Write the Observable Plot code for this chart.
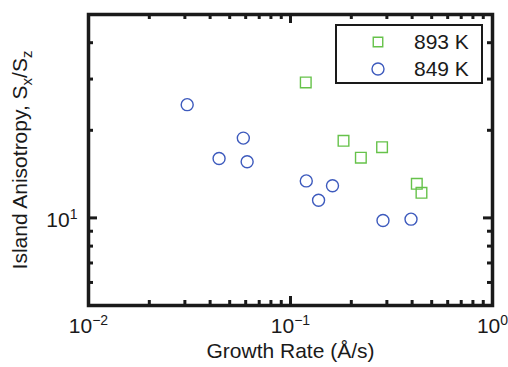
<!DOCTYPE html>
<html><head><meta charset="utf-8">
<script src="https://cdn.jsdelivr.net/npm/d3@7"></script>
<script src="https://cdn.jsdelivr.net/npm/@observablehq/plot@0.6"></script>
<style>html,body{margin:0;padding:0;background:#fff;}</style>
</head><body><div id="chart"></div>
<script>
// ---- data ----
const seriesNames = ["893 K", "849 K"];
const rate893  = [0.119, 0.183, 0.223, 0.284, 0.422, 0.445];
const aniso893 = [29.2, 18.4, 16.1, 17.5, 13.1, 12.2];
const rate849  = [0.0308, 0.0584, 0.0443, 0.0610, 0.1197, 0.1614, 0.1377, 0.287, 0.395];
const aniso849 = [24.5, 18.8, 16.0, 15.6, 13.4, 12.9, 11.5, 9.8, 9.9];
const xMajor = [0.01, 0.1, 1];
const xMajorLabels = ["10|−2", "10|−1", "10|0"];
const xMinor = [0.02, 0.03, 0.04, 0.05, 0.06, 0.07, 0.08, 0.09, 0.2, 0.3, 0.4, 0.5, 0.6, 0.7, 0.8, 0.9];
const yMajor = [10];
const yMajorLabels = ["10|1"];
const yMinor = [6, 7, 8, 9, 20, 30, 40];
const xLabel = "Growth Rate (Å/s)";
const yLabel = "Island Anisotropy, S|x|/S|z";

// ---- layout ----
const W = 508, H = 367, mL = 88, mR = 16, mT = 14, mB = 62;
const ph = H - mT - mB, pw = W - mL - mR;
const majorLen = 9, minorLen = 5;
const ink = "#1a1a1a", green = "#66c24a", blue = "#3d5abd";
const font = "'Liberation Sans', Arial, Helvetica, sans-serif";
const fs = 21, fsSmall = 14;

const d893 = rate893.map((r, i) => ({rate: r, aniso: aniso893[i]}));
const d849 = rate849.map((r, i) => ({rate: r, aniso: aniso849[i]}));

const tickStyle = {stroke: ink, strokeWidth: 3};
const plot = Plot.plot({
  width: W, height: H,
  marginLeft: mL, marginRight: mR, marginTop: mT, marginBottom: mB,
  x: {type: "log", domain: [0.01, 1], axis: null},
  y: {type: "log", domain: [5, 50], axis: null},
  style: {fontFamily: font, fontSize: fs + "px", color: ink, background: "white", overflow: "visible"},
  marks: [
    Plot.tickX(xMajor, {x: d => d, insetTop: ph - majorLen, ...tickStyle}),
    Plot.tickX(xMajor, {x: d => d, insetBottom: ph - majorLen, ...tickStyle}),
    Plot.tickX(xMinor, {x: d => d, insetTop: ph - minorLen, ...tickStyle}),
    Plot.tickX(xMinor, {x: d => d, insetBottom: ph - minorLen, ...tickStyle}),
    Plot.tickY(yMajor, {y: d => d, insetRight: pw - majorLen, ...tickStyle}),
    Plot.tickY(yMajor, {y: d => d, insetLeft: pw - majorLen, ...tickStyle}),
    Plot.tickY(yMinor, {y: d => d, insetRight: pw - minorLen, ...tickStyle}),
    Plot.tickY(yMinor, {y: d => d, insetLeft: pw - minorLen, ...tickStyle}),
    Plot.frame({stroke: ink, strokeWidth: 3.5}),
    Plot.dot(d893, {x: "rate", y: "aniso", symbol: "square", r: 6, stroke: green, strokeWidth: 1.4, fill: "none"}),
    Plot.dot(d849, {x: "rate", y: "aniso", symbol: "circle", r: 6, stroke: blue, strokeWidth: 1.4, fill: "none"}),
    Plot.text(xMajor, {x: d => d, frameAnchor: "bottom", dy: 27, textAnchor: "middle", text: (d, i) => xMajorLabels[i], fill: ink, fontSize: fs}),
    Plot.text(yMajor, {y: d => d, frameAnchor: "left", dx: -11, dy: 2.5, textAnchor: "end", text: (d, i) => yMajorLabels[i], fill: ink, fontSize: fs}),
    Plot.text([xLabel], {frameAnchor: "bottom", dy: 52, textAnchor: "middle", text: d => d, fill: ink, fontSize: fs}),
    Plot.text([yLabel], {frameAnchor: "left", dx: -68, rotate: -90, textAnchor: "middle", text: d => d, fill: ink, fontSize: fs})
  ]
});

const svg = d3.select(plot);
svg.selectAll("text").each(function () {
  const s = this.textContent;
  if (!s.includes("|")) return;
  const parts = s.split("|");
  const t = d3.select(this);
  t.text(null);
  if (parts.length === 2) { // power label: base + superscript
    t.append("tspan").text(parts[0]);
    t.append("tspan").attr("dy", "-0.55em").attr("font-size", fsSmall).text(parts[1]);
  } else { // axis label with subscripts
    t.append("tspan").text(parts[0]);
    t.append("tspan").attr("dy", "0.3em").attr("font-size", fsSmall + 1).text(parts[1]);
    t.append("tspan").attr("dy", "-0.21em").text(parts[2]);
    t.append("tspan").attr("dy", "0.3em").attr("font-size", fsSmall + 1).text(parts[3]);
  }
});

// legend
const lg = svg.append("g").attr("aria-label", "legend");
lg.append("rect").attr("x", 336).attr("y", 25).attr("width", 146).attr("height", 58)
  .attr("fill", "white").attr("stroke", ink).attr("stroke-width", 2);
const rows = [{name: seriesNames[0], color: green, sym: d3.symbolSquare, cy: 42},
              {name: seriesNames[1], color: blue, sym: d3.symbolCircle, cy: 69}];
rows.forEach(r => {
  lg.append("path").attr("transform", `translate(378,${r.cy})`)
    .attr("d", d3.symbol(r.sym, r.sym === d3.symbolSquare ? 90 : Math.PI * 36)())
    .attr("fill", "none").attr("stroke", r.color).attr("stroke-width", 1.4);
  lg.append("text").attr("x", 414).attr("y", r.cy).attr("dy", "0.34em")
    .attr("text-anchor", "start")
    .attr("font-family", font).attr("font-size", fs).attr("fill", ink).text(r.name);
});

document.getElementById("chart").appendChild(plot);
</script>
</body></html>
